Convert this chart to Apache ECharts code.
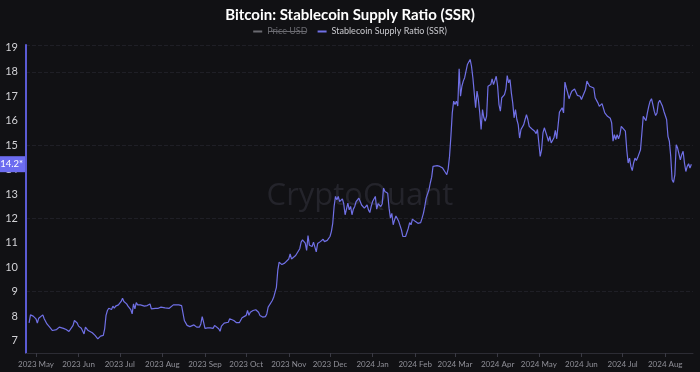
<!DOCTYPE html>
<html>
<head>
<meta charset="utf-8">
<script src="https://cdn.jsdelivr.net/npm/echarts@6/dist/echarts.min.js"></script>
<style>
html,body{margin:0;padding:0;background:#111114;}
#chart{width:700px;height:372px;}
</style>
</head>
<body>
<div id="chart"></div>
<script>
const dates = [
'2023-04-26','2023-04-27','2023-04-29','2023-04-30','2023-05-01','2023-05-02','2023-05-03','2023-05-04','2023-05-06','2023-05-07',
'2023-05-09','2023-05-11','2023-05-13','2023-05-16','2023-05-18','2023-05-19','2023-05-21','2023-05-22','2023-05-23','2023-05-25',
'2023-05-26','2023-05-28','2023-05-29','2023-05-31','2023-06-01','2023-06-03','2023-06-05','2023-06-06','2023-06-07','2023-06-08',
'2023-06-09','2023-06-11','2023-06-13','2023-06-15','2023-06-17','2023-06-18','2023-06-19','2023-06-20','2023-06-21','2023-06-22',
'2023-06-23','2023-06-25','2023-06-26','2023-06-27','2023-06-28','2023-06-30','2023-07-02','2023-07-03','2023-07-04','2023-07-06',
'2023-07-07','2023-07-09','2023-07-10','2023-07-11','2023-07-12','2023-07-13','2023-07-14','2023-07-16','2023-07-19','2023-07-21',
'2023-07-23','2023-07-24','2023-07-27','2023-07-29','2023-07-31','2023-08-01','2023-08-03','2023-08-06','2023-08-07','2023-08-09',
'2023-08-10','2023-08-13','2023-08-15','2023-08-16','2023-08-17','2023-08-19','2023-08-21','2023-08-22','2023-08-24','2023-08-26',
'2023-08-28','2023-08-29','2023-08-30','2023-08-31','2023-09-01','2023-09-03','2023-09-05','2023-09-07','2023-09-08','2023-09-09',
'2023-09-11','2023-09-12','2023-09-13','2023-09-15','2023-09-16','2023-09-18','2023-09-19','2023-09-20','2023-09-22','2023-09-23',
'2023-09-24','2023-09-26','2023-09-28','2023-09-29','2023-10-01','2023-10-02','2023-10-03','2023-10-04','2023-10-05','2023-10-06',
'2023-10-08','2023-10-10','2023-10-11','2023-10-13','2023-10-15','2023-10-16','2023-10-17','2023-10-18','2023-10-20','2023-10-21',
'2023-10-22','2023-10-23','2023-10-24','2023-10-25','2023-10-26','2023-10-27','2023-10-28','2023-10-29','2023-10-30','2023-11-01',
'2023-11-02','2023-11-03','2023-11-04','2023-11-06','2023-11-07','2023-11-09','2023-11-10','2023-11-11','2023-11-12','2023-11-13',
'2023-11-14','2023-11-15','2023-11-16','2023-11-17','2023-11-18','2023-11-19','2023-11-20','2023-11-21','2023-11-22','2023-11-23',
'2023-11-24','2023-11-26','2023-11-27','2023-11-29','2023-11-30','2023-12-01','2023-12-02','2023-12-03','2023-12-04','2023-12-05',
'2023-12-06','2023-12-07','2023-12-08','2023-12-10','2023-12-11','2023-12-12','2023-12-13','2023-12-14','2023-12-15','2023-12-16',
'2023-12-17','2023-12-18','2023-12-19','2023-12-20','2023-12-22','2023-12-23','2023-12-24','2023-12-25','2023-12-26','2023-12-28',
'2023-12-29','2023-12-30','2023-12-31','2024-01-01','2024-01-03','2024-01-04','2024-01-05','2024-01-06','2024-01-07','2024-01-08',
'2024-01-09','2024-01-10','2024-01-11','2024-01-12','2024-01-13','2024-01-14','2024-01-15','2024-01-16','2024-01-17','2024-01-18',
'2024-01-20','2024-01-21','2024-01-22','2024-01-23','2024-01-25','2024-01-26','2024-01-27','2024-01-28','2024-01-29','2024-01-30',
'2024-01-31','2024-02-01','2024-02-02','2024-02-03','2024-02-05','2024-02-06','2024-02-07','2024-02-08','2024-02-09','2024-02-11',
'2024-02-12','2024-02-13','2024-02-14','2024-02-15','2024-02-17','2024-02-18','2024-02-19','2024-02-20','2024-02-21','2024-02-23',
'2024-02-24','2024-02-25','2024-02-26','2024-02-27','2024-02-28','2024-02-29','2024-03-01','2024-03-02','2024-03-03','2024-03-04',
'2024-03-05','2024-03-06','2024-03-07','2024-03-08','2024-03-09','2024-03-10','2024-03-11','2024-03-12','2024-03-13','2024-03-14',
'2024-03-15','2024-03-16','2024-03-17','2024-03-18','2024-03-19','2024-03-20','2024-03-21','2024-03-22','2024-03-23','2024-03-24',
'2024-03-25','2024-03-26','2024-03-27','2024-03-28','2024-03-29','2024-03-30','2024-03-31','2024-04-01','2024-04-02','2024-04-03',
'2024-04-04','2024-04-05','2024-04-06','2024-04-07','2024-04-08','2024-04-09','2024-04-10','2024-04-11','2024-04-12','2024-04-13',
'2024-04-14','2024-04-15','2024-04-16','2024-04-17','2024-04-18','2024-04-19','2024-04-20','2024-04-21','2024-04-22','2024-04-23',
'2024-04-24','2024-04-25','2024-04-26','2024-04-27','2024-04-28','2024-04-29','2024-04-30','2024-05-01','2024-05-02','2024-05-03',
'2024-05-04','2024-05-05','2024-05-06','2024-05-07','2024-05-08','2024-05-09','2024-05-10','2024-05-11','2024-05-12','2024-05-13',
'2024-05-14','2024-05-15','2024-05-16','2024-05-17','2024-05-18','2024-05-19','2024-05-20','2024-05-21','2024-05-22','2024-05-23',
'2024-05-24','2024-05-25','2024-05-26','2024-05-27','2024-05-28','2024-05-29','2024-05-30','2024-05-31','2024-06-01','2024-06-02',
'2024-06-04','2024-06-05','2024-06-06','2024-06-07','2024-06-08','2024-06-10','2024-06-11','2024-06-12','2024-06-13','2024-06-14',
'2024-06-16','2024-06-17','2024-06-18','2024-06-19','2024-06-20','2024-06-22','2024-06-23','2024-06-24','2024-06-25','2024-06-26',
'2024-06-27','2024-06-28','2024-06-29','2024-06-30','2024-07-01','2024-07-03','2024-07-04','2024-07-05','2024-07-06','2024-07-07',
'2024-07-08','2024-07-09','2024-07-10','2024-07-11','2024-07-12','2024-07-14','2024-07-15','2024-07-16','2024-07-17','2024-07-18',
'2024-07-19','2024-07-20','2024-07-21','2024-07-22','2024-07-23','2024-07-24','2024-07-25','2024-07-26','2024-07-27','2024-07-28',
'2024-07-29','2024-07-30','2024-07-31','2024-08-01','2024-08-02','2024-08-03','2024-08-04','2024-08-05','2024-08-06','2024-08-07',
'2024-08-08','2024-08-09','2024-08-10','2024-08-11','2024-08-12','2024-08-13','2024-08-14','2024-08-15','2024-08-16','2024-08-17',
'2024-08-18','2024-08-19','2024-08-20'
];
const ssr = [
7.72,8.05,8.0,7.97,7.89,7.72,7.91,7.91,8.05,7.89,
7.68,7.55,7.41,7.45,7.55,7.48,7.5,7.56,7.45,7.37,
7.44,7.62,7.82,7.72,7.59,7.5,7.27,7.55,7.62,7.41,
7.48,7.32,7.21,7.07,7.18,7.24,7.21,7.48,8.03,8.23,
8.32,8.27,8.41,8.32,8.41,8.46,8.6,8.73,8.6,8.5,
8.41,8.27,8.09,8.5,8.3,8.55,8.46,8.46,8.41,8.43,
8.5,8.3,8.32,8.32,8.37,8.3,8.34,8.32,8.32,8.46,
8.45,8.46,8.43,8.37,7.82,7.62,7.57,7.58,7.64,7.55,
7.55,7.68,7.98,7.75,7.5,7.52,7.52,7.5,7.62,7.55,
7.48,7.38,7.59,7.71,7.71,7.75,7.89,7.92,7.82,7.79,
7.73,7.73,7.93,7.93,8.03,8.23,8.03,8.16,8.12,8.23,
8.26,8.16,8.03,7.96,7.98,8.09,8.37,8.43,8.64,8.77,
8.84,9.18,9.87,10.21,10.25,10.11,10.07,10.17,10.21,10.34,
10.55,10.34,10.41,10.48,10.55,10.76,11.03,11.12,11.07,10.99,
10.69,11.3,10.9,10.96,10.85,11.03,11.08,10.63,10.97,11.0,
11.05,11.15,11.05,11.1,11.05,11.26,11.46,11.8,12.49,12.9,
12.76,12.9,12.69,12.8,12.6,12.15,12.38,12.63,12.35,12.49,
12.15,12.38,12.49,12.69,12.83,12.69,12.55,12.6,12.42,12.55,
12.35,12.24,12.49,12.69,12.9,12.38,12.6,12.65,12.49,12.6,
13.24,13.1,13.17,13.03,12.42,12.01,12.21,11.74,11.94,12.1,
11.88,11.8,11.53,11.26,11.26,11.33,11.6,11.83,11.74,11.97,
12.01,11.88,11.94,11.8,11.83,12.01,12.21,12.49,12.83,13.17,
13.45,13.69,14.13,14.2,14.16,14.2,14.13,14.16,14.06,13.88,
13.79,14.02,14.54,15.36,16.32,16.8,16.66,16.8,16.6,18.13,
17.0,17.41,17.62,17.76,17.7,18.3,18.37,18.51,18.23,17.76,
17.14,16.53,17.21,16.87,16.32,15.64,16.46,16.12,15.98,16.19,
17.41,17.48,17.48,17.71,17.48,17.41,17.82,17.41,16.66,16.39,
16.94,16.87,17.07,17.28,17.85,17.55,17.69,17.14,16.73,16.12,
16.46,16.05,15.84,15.29,15.64,15.71,15.84,16.05,16.25,16.05,
15.77,15.8,15.66,15.64,15.57,15.47,15.64,15.09,14.54,14.81,
15.5,15.71,15.75,15.36,15.16,15.36,15.09,15.06,15.3,15.61,
15.26,15.8,16.35,16.43,16.53,16.32,17.58,17.35,17.14,16.9,
17.07,17.21,17.14,17.3,17.24,17.04,17.0,17.0,16.87,16.94,
17.28,17.62,17.69,17.41,17.48,17.34,16.94,17.0,16.73,16.59,
16.7,16.66,16.32,16.25,16.18,16.1,15.91,15.16,15.43,15.23,
15.43,15.26,15.43,15.77,15.8,15.57,14.81,14.27,14.47,14.13,
13.96,14.27,14.47,14.37,14.5,14.81,15.5,16.18,16.2,16.0,
16.32,16.59,16.8,16.9,16.66,16.39,16.21,16.32,16.73,16.84,
16.8,16.59,16.39,16.43,16.05,15.36,15.16,14.54,13.58,13.47,
13.78,15.02,14.88,14.88,14.4,14.61,14.75,14.27,13.92,14.13,
14.24,14.06,14.22
];
const yTicks = [7, 8, 9, 10, 11, 12, 13, 14, 15, 16, 17, 18, 19];
const monthNames = ['Jan','Feb','Mar','Apr','May','Jun','Jul','Aug','Sep','Oct','Nov','Dec'];
const seriesNames = ['Price USD', 'Stablecoin Supply Ratio (SSR)'];

const parse = s => +echarts.number.parseDate(s);
const lastValue = ssr[ssr.length - 1];
const DAY = 86400000;

const chart = echarts.init(document.getElementById('chart'), null, {renderer: 'canvas'});
chart.setOption({
  backgroundColor: '#111114',
  animation: false,
  title: {
    text: 'Bitcoin: Stablecoin Supply Ratio (SSR)',
    left: 'center', top: 3,
    textStyle: {color: '#ffffff', fontSize: 15, fontWeight: 'bold', fontFamily: 'Lato'}
  },
  legend: {
    top: 22, left: 'center',
    data: seriesNames,
    icon: 'rect', itemWidth: 9, itemHeight: 2, itemGap: 10,
    textStyle: {color: '#c9c9ce', fontSize: 9, fontFamily: 'Lato'},
    inactiveColor: '#6a6a70',
    selected: {'Price USD': false}
  },
  graphic: [
    {type: 'text', x: 360, y: 196, z: -1, silent: true,
     style: {text: 'CryptoQuant', font: '500 31px "Open Sans"', fill: '#24242b', textAlign: 'center', textVerticalAlign: 'middle'}},
    {type: 'rect', shape: {x: 268, y: 31, width: 38, height: 1}, silent: true,
     style: {fill: '#6a6a70'}}
  ],
  grid: {left: 26, right: 7, top: 45, bottom: 19},
  xAxis: {
    type: 'time',
    min: parse('2023-04-23 18:00'),
    max: parse('2024-08-21 05:00'),
    minInterval: 28 * DAY,
    maxInterval: 31 * DAY,
    splitNumber: 16,
    axisLine: {lineStyle: {color: '#2c2c34', width: 1}},
    axisTick: {show: true, length: 4, lineStyle: {color: '#3a3a44'}},
    axisLabel: {
      color: '#8f8f97', fontSize: 8, fontFamily: 'Lato', margin: 7, hideOverlap: false,
      formatter: v => { const d = new Date(v); return d.getFullYear() + ' ' + monthNames[d.getMonth()]; }
    },
    splitLine: {show: false}
  },
  yAxis: {
    type: 'value',
    min: 6.49, max: 19.1,
    axisLine: {show: true, lineStyle: {color: '#5b5bd4', width: 2}},
    axisTick: {show: false},
    axisLabel: {customValues: yTicks, color: '#d2d2d6', fontSize: 11, fontFamily: 'Lato', margin: 8},
    splitLine: {show: true, lineStyle: {color: '#1f1f26', type: 'dashed', width: 1}}
  },
  series: [
    {name: seriesNames[0], type: 'line', data: [], itemStyle: {color: '#8a8a8a'}},
    {
      name: seriesNames[1], type: 'line', showSymbol: false, clip: false,
      data: dates.map((d, i) => [d, ssr[i]]),
      lineStyle: {color: '#7070e6', width: 1.2},
      itemStyle: {color: '#7070e6'},
      markLine: {
        silent: true, symbol: 'none', animation: false,
        lineStyle: {color: 'rgba(0,0,0,0)', width: 0, type: 'solid'},
        label: {
          show: true,
          position: 'start', distance: 1,
          formatter: p => Number(p.value).toFixed(1) + '*',
          backgroundColor: '#6c6cf0', color: '#ffffff', fontSize: 9.5, fontFamily: 'Lato',
          padding: [3, 2, 3, 2]
        },
        emphasis: {disabled: true},
        data: [{yAxis: lastValue}]
      }
    }
  ]
});
</script>
</body>
</html>
